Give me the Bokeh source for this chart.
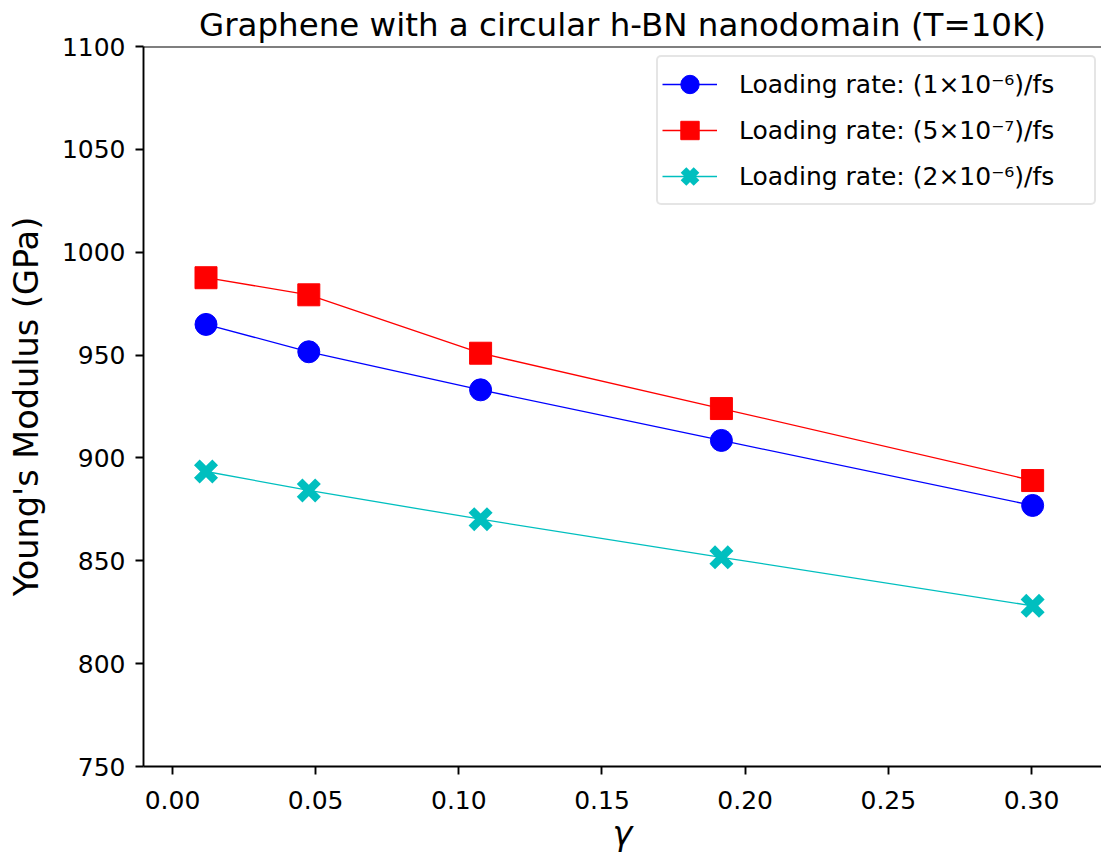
from bokeh.plotting import figure
from bokeh.models import Range1d, FixedTicker, NumeralTickFormatter, Span, Legend, LegendItem
from bokeh.embed import file_html
from bokeh.resources import INLINE

# ---- data ----
gamma = [0.0117, 0.0476, 0.1076, 0.1917, 0.3004]
E_rate_1e6 = [964.9, 951.6, 933.1, 908.5, 876.9]
E_rate_5e7 = [987.6, 979.3, 950.9, 924.0, 889.0]
E_rate_2e6 = [893.4, 884.2, 870.2, 851.7, 828.1]
series_labels = [
    "Loading rate: (1×10⁻⁶)/fs",
    "Loading rate: (5×10⁻⁷)/fs",
    "Loading rate: (2×10⁻⁶)/fs",
]
x_ticks = [0.0, 0.05, 0.10, 0.15, 0.20, 0.25, 0.30]
y_ticks = [750, 800, 850, 900, 950, 1000, 1050, 1100]
title_text = "Graphene with a circular h-BN nanodomain (T=10K)"
x_label = "γ"
y_label = "Young's Modulus (GPa)"

FONT = "DejaVu Sans"

p = figure(
    width=1101, height=855,
    output_backend="svg", toolbar_location=None,
    x_range=Range1d(-0.01013, 0.32445), y_range=Range1d(750, 1100),
    min_border_left=143, min_border_right=0, min_border_top=46, min_border_bottom=89,
    background_fill_color="white", border_fill_color="white",
)
p.outline_line_color = None
p.grid.visible = False

p.title.text = title_text
p.title.align = "center"
p.title.text_font = FONT
p.title.text_font_size = "32.5px"
p.title.text_font_style = "normal"
p.title.text_color = "black"
p.title.standoff = 5
p.title.offset = 0

for ax in (p.xaxis, p.yaxis):
    ax.axis_line_width = 1.9
    ax.axis_line_color = "black"
    ax.major_tick_line_width = 1.9
    ax.major_tick_line_color = "black"
    ax.major_tick_out = 8
    ax.major_tick_in = 0
    ax.minor_tick_line_color = None
    ax.major_label_text_font = FONT
    ax.major_label_text_font_size = "25px"
    ax.major_label_text_color = "black"
    ax.axis_label_text_font = FONT
    ax.axis_label_text_font_size = "33.5px"
    ax.axis_label_text_font_style = "normal"
    ax.axis_label_text_color = "black"

p.xaxis.ticker = FixedTicker(ticks=x_ticks)
p.yaxis.ticker = FixedTicker(ticks=y_ticks)
p.xaxis.formatter = NumeralTickFormatter(format="0.00")
p.yaxis.formatter = NumeralTickFormatter(format="0")
p.xaxis.axis_label = x_label
p.xaxis.axis_label_text_font_style = "italic"
p.xaxis.axis_label_text_line_height = 0.8
p.yaxis.axis_label = y_label
p.xaxis.major_label_standoff = 16
p.yaxis.major_label_standoff = 10
p.xaxis.axis_label_standoff = 2
p.yaxis.axis_label_standoff = 13

# top spine
p.add_layout(Span(location=1100, dimension="width", line_color="black", line_width=1.9))

l1 = p.line(gamma, E_rate_1e6, line_color="#0000ff", line_width=1.3)
s1 = p.scatter(gamma, E_rate_1e6, marker="circle", size=22, fill_color="#0000ff", line_color="#0000ff")
l2 = p.line(gamma, E_rate_5e7, line_color="#ff0000", line_width=1.3)
s2 = p.scatter(gamma, E_rate_5e7, marker="square", size=22, fill_color="#ff0000", line_color="#ff0000")
l3 = p.line(gamma, E_rate_2e6, line_color="#00bfbf", line_width=1.3)
s3 = p.scatter(gamma, E_rate_2e6, marker="x", size=26, line_color="#00bfbf", line_width=8)

legend = Legend(
    items=[
        LegendItem(label=series_labels[0], renderers=[l1, s1]),
        LegendItem(label=series_labels[1], renderers=[l2, s2]),
        LegendItem(label=series_labels[2], renderers=[l3, s3]),
    ],
    location=(513, 561),
    margin=0, padding=4, spacing=0,
    glyph_width=55, glyph_height=46, label_height=46, label_width=351,
    label_standoff=22,
    label_text_font=FONT, label_text_font_size="25px", label_text_color="black",
    border_line_color="#cccccc", border_line_width=2,
    background_fill_color="white", background_fill_alpha=0.8,
)
if "border_radius" in Legend.properties():
    legend.border_radius = 5
p.add_layout(legend)

open("out.html", "w").write(file_html(p, INLINE))
